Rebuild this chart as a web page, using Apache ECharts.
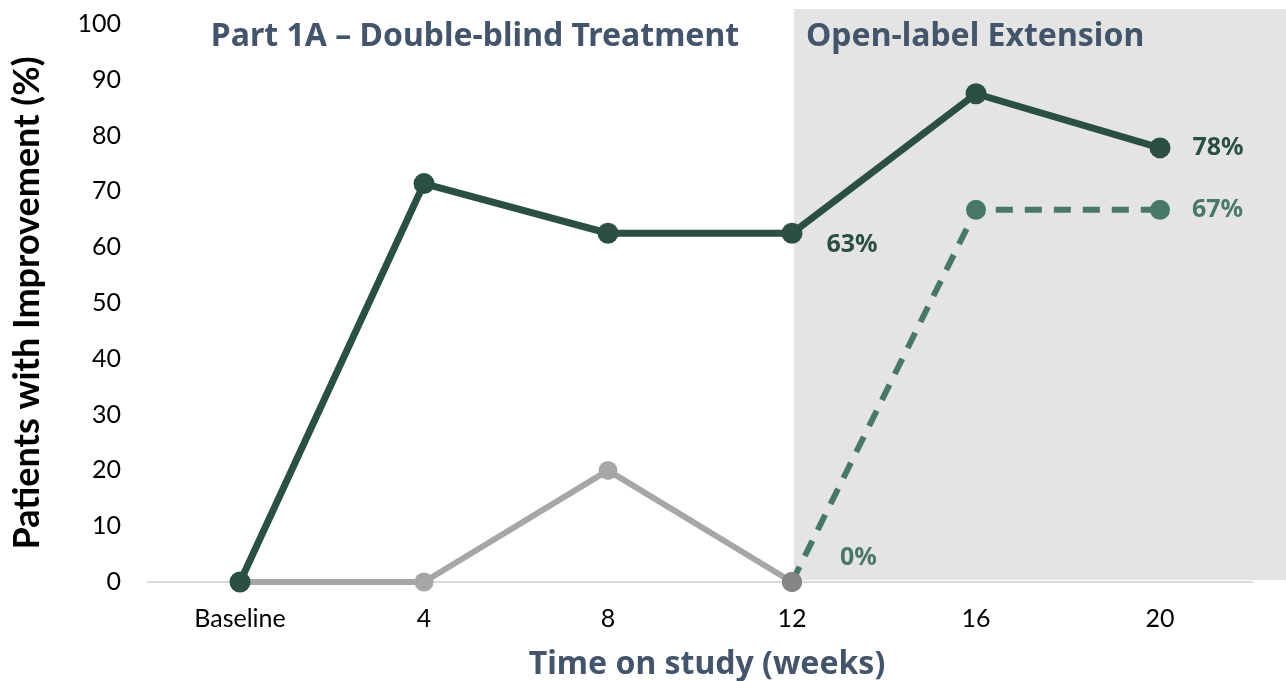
<!DOCTYPE html>
<html>
<head>
<meta charset="utf-8">
<style>
  html, body { margin: 0; padding: 0; background: #ffffff; }
  #chart { width: 1286px; height: 681px; }
</style>
<script src="https://cdn.jsdelivr.net/npm/echarts@6/dist/echarts.min.js"></script>
</head>
<body>
<div id="chart"></div>
<script>
// Time points (weeks)
const categories = ['Baseline', '4', '8', '12', '16', '20'];

// Percent of patients with improvement
const activeArm = [0, 71.4, 62.5, 62.5, 87.5, 77.8];
const placeboArm = [0, 0, 20, 0, null, null];
const placeboCrossover = [null, null, null, 0, 66.7, 66.7];

// Labelled values
const activeLabels = { 3: '63%', 5: '78%' };
const crossoverLabels = { 3: '0%', 5: '67%' };

const yTicks = [0, 10, 20, 30, 40, 50, 60, 70, 80, 90, 100];

const DARK = '#2b4f43';
const MID = '#4a7868';
const GREY = '#a6a6a6';
const SLATE = '#44546a';
const BOLD_FONT = '"Noto Sans", "Open Sans", sans-serif';
const TICK_FONT = 'Lato, sans-serif';

const chart = echarts.init(document.getElementById('chart'));

function labelled(values, labels, color, extra) {
  return values.map((v, i) => {
    if (labels[i] === undefined) return v;
    return {
      value: v,
      label: Object.assign({
        show: true,
        formatter: labels[i],
        color: color,
        fontFamily: BOLD_FONT,
        fontWeight: 'bold',
        fontSize: 25,
        position: 'right',
        distance: 20
      }, extra[i] || {})
    };
  });
}

const option = {
  animation: false,
  grid: { left: 148, right: 34, top: 24, bottom: 99, containLabel: false, outerBoundsMode: 'none' },
  xAxis: {
    type: 'category',
    data: categories,
    boundaryGap: true,
    axisLine: { lineStyle: { color: '#d9d9d9', width: 2 } },
    axisTick: { show: false },
    axisLabel: { color: '#000', fontFamily: TICK_FONT, fontSize: 25, margin: 24 },
    name: 'Time on study (weeks)',
    nameLocation: 'middle',
    nameGap: 67,
    nameTextStyle: {
      color: SLATE, fontFamily: BOLD_FONT, fontWeight: 'bold', fontSize: 32,
      padding: [0, 0, 0, 14]
    }
  },
  yAxis: {
    type: 'value',
    min: 0,
    max: 100,
    interval: 10,
    axisLine: { show: false },
    axisTick: { show: false },
    splitLine: { show: false },
    axisLabel: {
      color: '#000', fontFamily: TICK_FONT, fontSize: 25, margin: 27,
      formatter: v => yTicks.includes(v) ? String(v) : ''
    },
    name: 'Patients with Improvement (%)',
    nameLocation: 'middle',
    nameGap: 103,
    nameRotate: 90,
    nameTextStyle: { color: '#000', fontFamily: 'Lato, sans-serif', fontWeight: 'bold', fontSize: 36 }
  },
  series: [
    {
      type: 'line',
      data: placeboArm,
      z: 2,
      symbol: 'circle',
      symbolSize: 19,
      itemStyle: { color: GREY },
      lineStyle: { color: GREY, width: 6 },
      connectNulls: false
    },
    {
      type: 'line',
      data: labelled(placeboCrossover, crossoverLabels, MID, {
        3: { position: 'right', offset: [18, -24] },
        5: { distance: 22 }
      }),
      z: 3,
      symbol: 'circle',
      symbolSize: 20,
      itemStyle: { color: MID },
      lineStyle: { color: MID, width: 6, type: [17, 12] }
    },
    {
      type: 'line',
      data: placeboCrossover.map((v, i) => i === 3 ? v : null),
      z: 4,
      symbol: 'circle',
      symbolSize: 20,
      itemStyle: { color: '#858585' },
      lineStyle: { width: 0 }
    },
    {
      type: 'line',
      data: labelled(activeArm, activeLabels, DARK, {
        3: { offset: [4, 12] },
        5: { distance: 22 }
      }),
      z: 5,
      symbol: 'circle',
      symbolSize: 21,
      itemStyle: { color: DARK },
      lineStyle: { color: DARK, width: 7 }
    }
  ]
};

chart.setOption(option);

// Shaded open-label phase from week 12 to the right edge, plus phase titles
function drawPhases() {
  const x12 = chart.convertToPixel({ xAxisIndex: 0 }, '12');
  const x8 = chart.convertToPixel({ xAxisIndex: 0 }, '8');
  const x4 = chart.convertToPixel({ xAxisIndex: 0 }, '4');
  const y0 = chart.convertToPixel({ yAxisIndex: 0 }, 0);
  const top = 9;
  chart.setOption({
    graphic: [
      {
        type: 'rect', z: -10, silent: true,
        shape: { x: x12 + 2, y: top, width: chart.getWidth() - x12, height: y0 - 2 - top },
        style: { fill: '#e4e4e4' }
      },
      {
        type: 'text', z: 10, silent: true,
        style: {
          text: 'Part 1A \u2013 Double-blind Treatment',
          x: (x4 + x8) / 2 - 41, y: 37,
          align: 'center', verticalAlign: 'middle',
          fill: SLATE, font: 'bold 32px ' + BOLD_FONT
        }
      },
      {
        type: 'text', z: 10, silent: true,
        style: {
          text: 'Open-label Extension',
          x: x12 + 14, y: 37,
          align: 'left', verticalAlign: 'middle',
          fill: SLATE, font: 'bold 32px ' + BOLD_FONT
        }
      }
    ]
  });
}
drawPhases();
</script>
</body>
</html>
